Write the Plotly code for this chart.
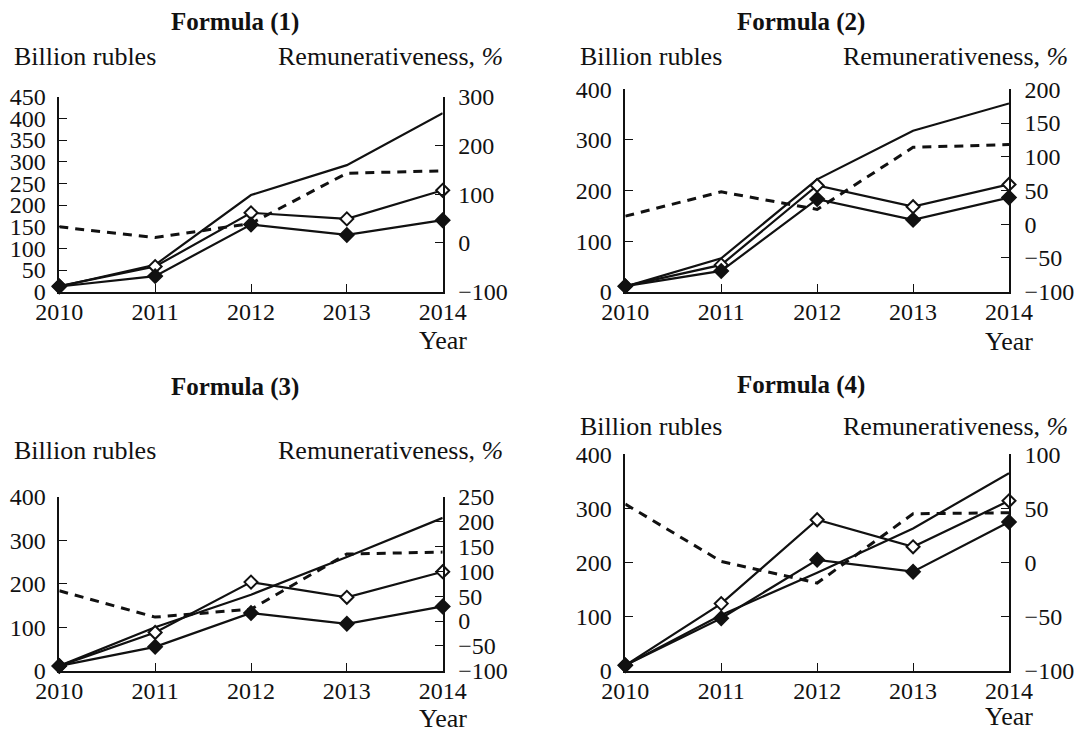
import plotly.graph_objects as go

W, H = 1075, 732
INK = "#111111"
FONT = "Liberation Serif"

years = [2010, 2011, 2012, 2013, 2014]
year_labels = ["2010", "2011", "2012", "2013", "2014"]

# Formula (1): billion rubles (left axis) and remunerativeness, % (right axis)
f1_plain = [12, 62, 223, 292, 412]
f1_open = [13, 58, 182, 168, 234]
f1_filled = [12, 36, 155, 131, 165]
f1_remun = [33, 11, 40, 143, 148]

# Formula (2)
f2_plain = [10, 66, 222, 318, 372]
f2_open = [11, 53, 210, 168, 212]
f2_filled = [11, 41, 183, 142, 186]
f2_remun = [12, 48, 22, 114, 118]

# Formula (3)
f3_plain = [11, 100, 175, 262, 352]
f3_open = [11, 88, 204, 169, 228]
f3_filled = [11, 55, 133, 108, 148]
f3_remun = [61, 8, 24, 135, 139]

# Formula (4)
f4_plain = [10, 103, 181, 263, 365]
f4_open = [10, 124, 279, 229, 314]
f4_filled = [10, 97, 205, 183, 275]
f4_remun = [54, 1, -19, 45, 46]

titles = ["Formula (1)", "Formula (2)", "Formula (3)", "Formula (4)"]
left_ranges = [[0, 450], [0, 400], [0, 400], [0, 400]]
left_steps = [50, 100, 100, 100]
right_ranges = [[-100, 300], [-100, 200], [-100, 250], [-100, 100]]
right_steps = [100, 50, 50, 50]

series = [
    (f1_plain, f1_open, f1_filled, f1_remun),
    (f2_plain, f2_open, f2_filled, f2_remun),
    (f3_plain, f3_open, f3_filled, f3_remun),
    (f4_plain, f4_open, f4_filled, f4_remun),
]

# Plot-area frames in pixels: (left, right, top, bottom)
frames = [
    (59.3, 442.7, 96.7, 291.7),
    (625.3, 1009.0, 89.3, 291.7),
    (59.3, 442.7, 497.0, 670.7),
    (625.3, 1009.0, 454.3, 670.7),
]
# Text rows in pixels: (title x, title y, units row y, right label end x, "Year" y)
text_rows = [
    (234.5, 21.7, 56.7, 505.0, 340.0),
    (800.5, 21.7, 56.7, 1070.0, 341.0),
    (234.5, 386.7, 450.0, 505.0, 718.0),
    (800.5, 385.0, 426.7, 1070.0, 716.7),
]


def px(x):
    return x / W


def py(y):
    return 1 - y / H


fig = go.Figure()
layout = dict(
    width=W, height=H,
    margin=dict(l=0, r=0, t=0, b=0, pad=0, autoexpand=False),
    paper_bgcolor="white", plot_bgcolor="white",
    showlegend=False,
    font=dict(family=FONT, size=24, color=INK),
)
annotations = []

axis_common = dict(
    showline=True, linecolor=INK, linewidth=1.6,
    ticks="inside", ticklen=8, tickwidth=1.4, tickcolor=INK,
    showgrid=False, zeroline=False, automargin=False,
    tickfont=dict(family=FONT, size=24, color=INK),
    fixedrange=True,
)

for i in range(4):
    n = i + 1
    xname = "x" if n == 1 else f"x{n}"
    yl_idx, yr_idx = 2 * n - 1, 2 * n
    yl = "y" if yl_idx == 1 else f"y{yl_idx}"
    yr = f"y{yr_idx}"
    l, r, t, b = frames[i]
    plain, opened, filled, remun = series[i]

    layout["xaxis" if n == 1 else f"xaxis{n}"] = dict(
        axis_common, domain=[px(l), px(r)], range=[2010, 2014],
        tickvals=years, ticktext=year_labels, anchor=yl,
        ticklabelstandoff=-2,
    )
    layout["yaxis" if yl_idx == 1 else f"yaxis{yl_idx}"] = dict(
        axis_common, domain=[py(b), py(t)], range=left_ranges[i],
        tick0=0, dtick=left_steps[i], anchor=xname, side="left",
        ticklabelstandoff=7,
    )
    layout[f"yaxis{yr_idx}"] = dict(
        axis_common, range=right_ranges[i], tick0=0, dtick=right_steps[i],
        anchor=xname, overlaying=yl, side="right",
        ticklabelstandoff=9,
    )

    # Remunerativeness, % (dashed, right axis)
    fig.add_trace(go.Scatter(
        x=years, y=remun, xaxis=xname, yaxis=yr, mode="lines",
        line=dict(color=INK, width=3, dash="9px,7px"),
        cliponaxis=False, hoverinfo="skip",
    ))
    # Plain solid line
    fig.add_trace(go.Scatter(
        x=years, y=plain, xaxis=xname, yaxis=yl, mode="lines",
        line=dict(color=INK, width=2.2), cliponaxis=False, hoverinfo="skip",
    ))
    # Open diamonds
    fig.add_trace(go.Scatter(
        x=years, y=opened, xaxis=xname, yaxis=yl, mode="lines+markers",
        line=dict(color=INK, width=2.2),
        marker=dict(symbol="diamond", size=10, color="white",
                    line=dict(color=INK, width=2)),
        cliponaxis=False, hoverinfo="skip",
    ))
    # Filled diamonds
    fig.add_trace(go.Scatter(
        x=years, y=filled, xaxis=xname, yaxis=yl, mode="lines+markers",
        line=dict(color=INK, width=2.2),
        marker=dict(symbol="diamond", size=11, color=INK,
                    line=dict(color=INK, width=1.5)),
        cliponaxis=False, hoverinfo="skip",
    ))

    tx, ty, uy, rx, yy = text_rows[i]
    annotations.append(dict(
        text=f"<b>{titles[i]}</b>", x=px(tx), y=py(ty), xref="paper", yref="paper",
        xanchor="center", yanchor="middle", showarrow=False,
        font=dict(family=FONT, size=25, color=INK),
    ))
    annotations.append(dict(
        text="Billion rubles", x=px(l - 47.3), y=py(uy), xref="paper", yref="paper",
        xanchor="left", yanchor="middle", showarrow=False,
        font=dict(family=FONT, size=26, color=INK),
    ))
    annotations.append(dict(
        text="Remunerativeness, <i>%</i>", x=px(rx), y=py(uy), xref="paper", yref="paper",
        xanchor="right", yanchor="middle", showarrow=False,
        font=dict(family=FONT, size=26, color=INK),
    ))
    annotations.append(dict(
        text="Year", x=px(r), y=py(yy), xref="paper", yref="paper",
        xanchor="center", yanchor="middle", showarrow=False,
        font=dict(family=FONT, size=26, color=INK),
    ))

layout["annotations"] = annotations
fig.update_layout(**layout)

# Let the figure sit flush against the page edges
fig.write_html("out.html", post_script="document.body.style.margin='0';")
